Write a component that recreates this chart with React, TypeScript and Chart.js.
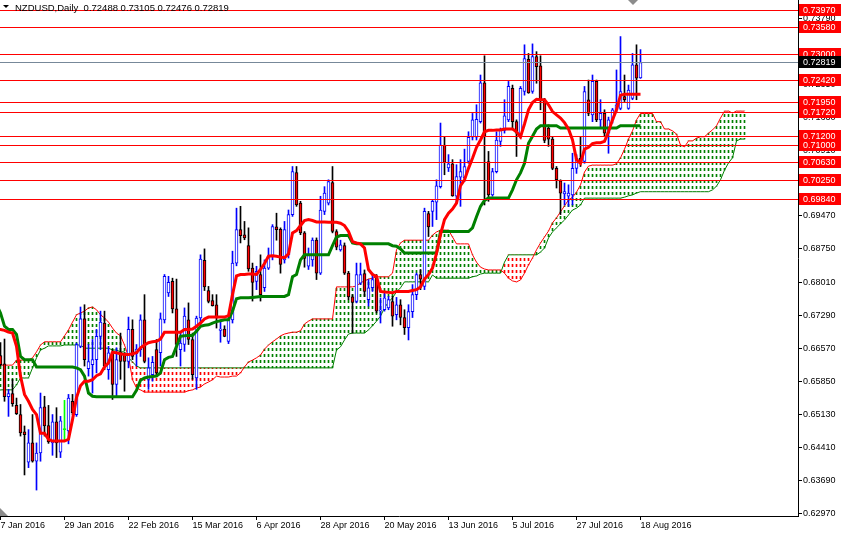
import React, { useEffect, useRef } from 'react';
import { Chart, registerables } from 'chart.js';

Chart.register(...registerables);

const FONT = "'Liberation Sans', Arial, sans-serif";
const AXIS_FONT_SIZE = 9;
const TITLE_FONT_SIZE = 9.5;
const SYMBOL = 'NZDUSD';
const PERIOD = 'Daily';

const dateTickBars = [0, 16, 32, 48, 64, 80, 96, 112, 128, 144, 160];
const dateTickLabels = ['7 Jan 2016', '29 Jan 2016', '22 Feb 2016', '15 Mar 2016', '6 Apr 2016', '28 Apr 2016', '20 May 2016', '13 Jun 2016', '5 Jul 2016', '27 Jul 2016', '18 Aug 2016'];
const priceTicks = [0.6297, 0.6369, 0.6441, 0.6513, 0.6585, 0.6657, 0.6729, 0.6801, 0.6875, 0.6947, 0.7019, 0.7091, 0.7163, 0.7235, 0.7307, 0.7379];
const PRICE_MIN = 0.62913;
const PRICE_MAX = 0.74189;
const BAR_MIN = -0.125;
const BAR_MAX = 199.375;
const levelPrices = [0.7397, 0.7358, 0.73, 0.7242, 0.7195, 0.7172, 0.712, 0.71, 0.7063, 0.7025, 0.6984];
const bidPrice = 0.72819;

const openP = [
  0.6642, 0.6624, 0.6552, 0.6559, 0.6533, 0.6513, 0.6475, 0.6409, 0.6451, 0.6411,
  0.6429, 0.6530, 0.6489, 0.6451, 0.6497, 0.6431, 0.6480, 0.6477, 0.6542, 0.6513,
  0.6662, 0.6722, 0.6613, 0.6622, 0.6633, 0.6684, 0.6713, 0.6611, 0.6649, 0.6579,
  0.6649, 0.6644, 0.6629, 0.6699, 0.6646, 0.6655, 0.6720, 0.6590, 0.6600, 0.6655,
  0.6648, 0.6720, 0.6779, 0.6804, 0.6744, 0.6655, 0.6666, 0.6720, 0.6677, 0.6593,
  0.6724, 0.6850, 0.6784, 0.6762, 0.6753, 0.6697, 0.6700, 0.6673, 0.6720, 0.6844,
  0.6917, 0.6906, 0.6882, 0.6833, 0.6804, 0.6819, 0.6790, 0.6833, 0.6859, 0.6923,
  0.6918, 0.6851, 0.6862, 0.6950, 0.7042, 0.6975, 0.6910, 0.6837, 0.6851, 0.6894,
  0.6822, 0.6957, 0.6975, 0.7020, 0.6913, 0.6873, 0.6882, 0.6822, 0.6770, 0.6760,
  0.6800, 0.6821, 0.6764, 0.6790, 0.6811, 0.6739, 0.6742, 0.6746, 0.6760, 0.6731,
  0.6753, 0.6725, 0.6703, 0.6738, 0.6775, 0.6819, 0.6793, 0.6952, 0.6957, 0.6977,
  0.7011, 0.7102, 0.7052, 0.7061, 0.6990, 0.7032, 0.7030, 0.7066, 0.7119, 0.7119,
  0.7153, 0.7238, 0.7066, 0.6993, 0.7044, 0.7110, 0.7134, 0.7157, 0.7226, 0.7153,
  0.7121, 0.7219, 0.7289, 0.7219, 0.7295, 0.7275, 0.7201, 0.7139, 0.7115, 0.7051,
  0.7024, 0.6995, 0.6990, 0.6993, 0.7051, 0.7073, 0.7066, 0.7201, 0.7168, 0.7241,
  0.7157, 0.7171, 0.7128, 0.7157, 0.7179, 0.7182, 0.7208, 0.7182, 0.7204, 0.7277,
  0.72488,
];
const highP = [
  0.6670, 0.6678, 0.6568, 0.6590, 0.6549, 0.6535, 0.6488, 0.6480, 0.6513, 0.6451,
  0.6560, 0.6553, 0.6533, 0.6513, 0.6528, 0.6509, 0.6544, 0.6557, 0.6557, 0.6669,
  0.6748, 0.6753, 0.6666, 0.6677, 0.6699, 0.6739, 0.6739, 0.6662, 0.6655, 0.6659,
  0.6691, 0.6648, 0.6726, 0.6720, 0.6666, 0.6731, 0.6775, 0.6637, 0.6640, 0.6677,
  0.6735, 0.6819, 0.6815, 0.6811, 0.6809, 0.6691, 0.6746, 0.6757, 0.6691, 0.6728,
  0.6862, 0.6875, 0.6793, 0.6775, 0.6775, 0.6720, 0.6707, 0.6731, 0.6870, 0.6964,
  0.6968, 0.6935, 0.6921, 0.6844, 0.6837, 0.6862, 0.6851, 0.6877, 0.6928, 0.6953,
  0.6921, 0.6935, 0.6960, 0.7055, 0.7055, 0.6979, 0.6913, 0.6877, 0.6899, 0.6899,
  0.6990, 0.7011, 0.7026, 0.7055, 0.6917, 0.6894, 0.6888, 0.6826, 0.6775, 0.6844,
  0.6844, 0.6829, 0.6808, 0.6822, 0.6819, 0.6768, 0.6782, 0.6771, 0.6771, 0.6769,
  0.6764, 0.6742, 0.6753, 0.6797, 0.6822, 0.6830, 0.6964, 0.6957, 0.6982, 0.7026,
  0.7150, 0.7120, 0.7081, 0.7070, 0.7059, 0.7070, 0.7093, 0.7131, 0.7171, 0.7190,
  0.7255, 0.7297, 0.7088, 0.7051, 0.7131, 0.7139, 0.7201, 0.7241, 0.7233, 0.7157,
  0.7230, 0.7321, 0.7302, 0.7323, 0.7306, 0.7297, 0.7204, 0.7146, 0.7121, 0.7055,
  0.7026, 0.7019, 0.7015, 0.7084, 0.7081, 0.7120, 0.7230, 0.7244, 0.7255, 0.7244,
  0.7201, 0.7179, 0.7163, 0.7182, 0.7266, 0.7339, 0.7255, 0.7233, 0.7302, 0.7321,
  0.73105,
];
const lowP = [
  0.6619, 0.6542, 0.6509, 0.6531, 0.6513, 0.6466, 0.6381, 0.6397, 0.6409, 0.6348,
  0.6411, 0.6466, 0.6450, 0.6424, 0.6419, 0.6419, 0.6458, 0.6449, 0.6513, 0.6509,
  0.6659, 0.6619, 0.6597, 0.6560, 0.6604, 0.6655, 0.6611, 0.6590, 0.6546, 0.6553,
  0.6590, 0.6564, 0.6615, 0.6633, 0.6619, 0.6640, 0.6626, 0.6568, 0.6586, 0.6597,
  0.6619, 0.6713, 0.6771, 0.6735, 0.6640, 0.6619, 0.6651, 0.6666, 0.6590, 0.6568,
  0.6706, 0.6784, 0.6757, 0.6750, 0.6702, 0.6671, 0.6683, 0.6668, 0.6713, 0.6838,
  0.6888, 0.6895, 0.6826, 0.6761, 0.6786, 0.6761, 0.6782, 0.6830, 0.6851, 0.6894,
  0.6822, 0.6844, 0.6855, 0.6946, 0.6968, 0.6906, 0.6835, 0.6830, 0.6837, 0.6808,
  0.6819, 0.6950, 0.6971, 0.6910, 0.6873, 0.6870, 0.6819, 0.6764, 0.6691, 0.6757,
  0.6797, 0.6771, 0.6750, 0.6782, 0.6735, 0.6713, 0.6739, 0.6742, 0.6706, 0.6720,
  0.6709, 0.6688, 0.6676, 0.6725, 0.6764, 0.6786, 0.6786, 0.6902, 0.6924, 0.6939,
  0.7008, 0.7037, 0.7044, 0.6990, 0.6975, 0.6968, 0.7022, 0.7062, 0.7113, 0.7113,
  0.7150, 0.6971, 0.6979, 0.6990, 0.7041, 0.7099, 0.7128, 0.7153, 0.7137, 0.7077,
  0.7117, 0.7211, 0.7215, 0.7215, 0.7237, 0.7179, 0.7107, 0.7099, 0.7048, 0.7008,
  0.6950, 0.6971, 0.6968, 0.6971, 0.7040, 0.7055, 0.7062, 0.7166, 0.7153, 0.7153,
  0.7142, 0.7121, 0.7084, 0.7150, 0.7175, 0.7179, 0.7197, 0.7180, 0.7201, 0.7201,
  0.72476,
];
const closeP = [
  0.6622, 0.6552, 0.6559, 0.6537, 0.6515, 0.6473, 0.6469, 0.6451, 0.6411, 0.6429,
  0.6528, 0.6488, 0.6453, 0.6497, 0.6451, 0.6499, 0.6480, 0.6549, 0.6517, 0.6666,
  0.6722, 0.6633, 0.6629, 0.6633, 0.6684, 0.6715, 0.6620, 0.6648, 0.6579, 0.6633,
  0.6629, 0.6629, 0.6699, 0.6640, 0.6656, 0.6720, 0.6629, 0.6615, 0.6627, 0.6604,
  0.6722, 0.6815, 0.6802, 0.6744, 0.6666, 0.6669, 0.6728, 0.6677, 0.6600, 0.6724,
  0.6853, 0.6792, 0.6760, 0.6751, 0.6724, 0.6700, 0.6684, 0.6720, 0.6844, 0.6917,
  0.6904, 0.6899, 0.6831, 0.6802, 0.6826, 0.6775, 0.6833, 0.6859, 0.6924, 0.6917,
  0.6841, 0.6917, 0.6950, 0.7044, 0.6971, 0.6910, 0.6854, 0.6862, 0.6894, 0.6822,
  0.6960, 0.6997, 0.7022, 0.6913, 0.6879, 0.6884, 0.6822, 0.6770, 0.6758, 0.6819,
  0.6819, 0.6782, 0.6790, 0.6808, 0.6739, 0.6742, 0.6768, 0.6764, 0.6728, 0.6753,
  0.6725, 0.6703, 0.6738, 0.6775, 0.6819, 0.6809, 0.6957, 0.6923, 0.6979, 0.7013,
  0.7102, 0.7064, 0.7061, 0.6991, 0.7033, 0.7044, 0.7055, 0.7119, 0.7157, 0.7158,
  0.7238, 0.7121, 0.6993, 0.7044, 0.7113, 0.7134, 0.7166, 0.7230, 0.7153, 0.7128,
  0.7226, 0.7291, 0.7216, 0.7295, 0.7273, 0.7201, 0.7112, 0.7115, 0.7051, 0.7026,
  0.6997, 0.7000, 0.6997, 0.7051, 0.7073, 0.7062, 0.7219, 0.7171, 0.7241, 0.7157,
  0.7171, 0.7128, 0.7157, 0.7179, 0.7190, 0.7219, 0.7201, 0.7222, 0.7277, 0.7248,
  0.72819,
];

const LINE_FIRST_BAR = -1;
const tenkan = [
  0.6699, 0.6699, 0.6697, 0.6693, 0.6691, 0.6662, 0.6597, 0.6557, 0.6542, 0.6524,
  0.6513, 0.6472, 0.6472, 0.6459, 0.6455, 0.6455, 0.6455, 0.6455, 0.6459, 0.6502,
  0.6550, 0.6576, 0.6586, 0.6586, 0.6589, 0.6598, 0.6602, 0.6617, 0.6626, 0.6649,
  0.6648, 0.6646, 0.6644, 0.6644, 0.6646, 0.6648, 0.6659, 0.6665, 0.6670, 0.6672,
  0.6673, 0.6678, 0.6693, 0.6693, 0.6693, 0.6693, 0.6693, 0.6699, 0.6699, 0.6700,
  0.6706, 0.6713, 0.6722, 0.6726, 0.6726, 0.6726, 0.6726, 0.6726, 0.6729, 0.6775,
  0.6816, 0.6819, 0.6819, 0.6820, 0.6820, 0.6819, 0.6830, 0.6843, 0.6859, 0.6860,
  0.6859, 0.6857, 0.6856, 0.6864, 0.6910, 0.6915, 0.6926, 0.6937, 0.6939, 0.6937,
  0.6934, 0.6934, 0.6934, 0.6933, 0.6933, 0.6933, 0.6931, 0.6926, 0.6913, 0.6891,
  0.6888, 0.6886, 0.6877, 0.6830, 0.6819, 0.6815, 0.6782, 0.6781, 0.6780, 0.6779,
  0.6782, 0.6782, 0.6782, 0.6782, 0.6784, 0.6786, 0.6792, 0.6809, 0.6819, 0.6833,
  0.6865, 0.6906, 0.6939, 0.6953, 0.6962, 0.6975, 0.7013, 0.7026, 0.7051, 0.7073,
  0.7097, 0.7113, 0.7131, 0.7134, 0.7134, 0.7135, 0.7135, 0.7137, 0.7137, 0.7137,
  0.7131, 0.7120, 0.7148, 0.7179, 0.7195, 0.7202, 0.7201, 0.7201, 0.7190, 0.7175,
  0.7168, 0.7161, 0.7151, 0.7137, 0.7113, 0.7070, 0.7062, 0.7093, 0.7097, 0.7105,
  0.7107, 0.7107, 0.7110, 0.7131, 0.7157, 0.7179, 0.7211, 0.7213, 0.7213, 0.7213,
  0.7213, 0.7213,
];
const kijun = [
  0.6753, 0.6735, 0.6706, 0.6699, 0.6699, 0.6688, 0.6640, 0.6633, 0.6633, 0.6633,
  0.6617, 0.6617, 0.6617, 0.6617, 0.6617, 0.6617, 0.6617, 0.6617, 0.6617, 0.6617,
  0.6615, 0.6611, 0.6597, 0.6560, 0.6553, 0.6552, 0.6552, 0.6552, 0.6552, 0.6552,
  0.6552, 0.6552, 0.6552, 0.6552, 0.6552, 0.6566, 0.6588, 0.6593, 0.6595, 0.6596,
  0.6597, 0.6604, 0.6633, 0.6638, 0.6640, 0.6662, 0.6684, 0.6685, 0.6686, 0.6686,
  0.6695, 0.6706, 0.6708, 0.6709, 0.6713, 0.6716, 0.6718, 0.6720, 0.6720, 0.6739,
  0.6766, 0.6768, 0.6768, 0.6768, 0.6769, 0.6770, 0.6771, 0.6771, 0.6771, 0.6771,
  0.6771, 0.6771, 0.6771, 0.6775, 0.6814, 0.6819, 0.6851, 0.6862, 0.6862, 0.6862,
  0.6862, 0.6862, 0.6862, 0.6862, 0.6882, 0.6901, 0.6904, 0.6904, 0.6904, 0.6888,
  0.6886, 0.6886, 0.6886, 0.6886, 0.6886, 0.6886, 0.6886, 0.6886, 0.6886, 0.6882,
  0.6881, 0.6875, 0.6866, 0.6866, 0.6866, 0.6866, 0.6866, 0.6866, 0.6866, 0.6866,
  0.6866, 0.6913, 0.6913, 0.6913, 0.6913, 0.6913, 0.6913, 0.6913, 0.6913, 0.6921,
  0.6945, 0.6968, 0.6981, 0.6986, 0.6986, 0.6986, 0.6986, 0.6986, 0.6986, 0.7004,
  0.7026, 0.7041, 0.7062, 0.7106, 0.7121, 0.7137, 0.7144, 0.7144, 0.7144, 0.7144,
  0.7144, 0.7139, 0.7139, 0.7139, 0.7139, 0.7139, 0.7139, 0.7139, 0.7139, 0.7139,
  0.7139, 0.7139, 0.7139, 0.7139, 0.7139, 0.7139, 0.7144, 0.7144, 0.7144, 0.7144,
  0.7144, 0.7144,
];

const CLOUD_FIRST_BAR = -1;
const spanA = [
  0.6621, 0.6621, 0.6621, 0.6621, 0.6621, 0.6632, 0.6632, 0.6632, 0.6632, 0.6637,
  0.6650, 0.6665, 0.6672, 0.6672, 0.6672, 0.6672, 0.6672, 0.6685, 0.6698, 0.6715,
  0.6731, 0.6735, 0.6739, 0.6746, 0.6748, 0.6742, 0.6731, 0.6724, 0.6715, 0.6702,
  0.6691, 0.6685, 0.6665, 0.6639, 0.6589, 0.6571, 0.6567, 0.6562, 0.6562, 0.6562,
  0.6562, 0.6562, 0.6562, 0.6562, 0.6562, 0.6562, 0.6562, 0.6562, 0.6565, 0.6567,
  0.6571, 0.6573, 0.6580, 0.6584, 0.6589, 0.6597, 0.6595, 0.6595, 0.6595, 0.6597,
  0.6597, 0.6604, 0.6617, 0.6628, 0.6632, 0.6637, 0.6643, 0.6656, 0.6665, 0.6672,
  0.6678, 0.6685, 0.6689, 0.6691, 0.6693, 0.6693, 0.6696, 0.6711, 0.6717, 0.6722,
  0.6722, 0.6722, 0.6722, 0.6722, 0.6722, 0.6792, 0.6792, 0.6792, 0.6792, 0.6792,
  0.6794, 0.6801, 0.6805, 0.6809, 0.6811, 0.6814, 0.6814, 0.6814, 0.6814, 0.6822,
  0.6873, 0.6888, 0.6894, 0.6894, 0.6894, 0.6894, 0.6894, 0.6894, 0.6894, 0.6905,
  0.6912, 0.6916, 0.6916, 0.6916, 0.6901, 0.6886, 0.6886, 0.6886, 0.6886, 0.6862,
  0.6846, 0.6835, 0.6831, 0.6829, 0.6829, 0.6829, 0.6829, 0.6822, 0.6811, 0.6805,
  0.6803, 0.6807, 0.6822, 0.6840, 0.6855, 0.6873, 0.6888, 0.6901, 0.6914, 0.6932,
  0.6943, 0.6956, 0.6969, 0.6982, 0.6988, 0.6999, 0.7015, 0.7043, 0.7056, 0.7058,
  0.7058, 0.7058, 0.7058, 0.7058, 0.7058, 0.7061, 0.7074, 0.7093, 0.7115, 0.7133,
  0.7157, 0.7171, 0.7171, 0.7171, 0.7171, 0.7153, 0.7153, 0.7137, 0.7137, 0.7133,
  0.7126, 0.7102, 0.7098, 0.7111, 0.7111, 0.7117, 0.7120, 0.7120, 0.7128, 0.7135,
  0.7144, 0.7161, 0.7176, 0.7176, 0.7172, 0.7176, 0.7176, 0.7176,
];
const spanB = [
  0.6567, 0.6567, 0.6567, 0.6567, 0.6567, 0.6578, 0.6593, 0.6593, 0.6593, 0.6615,
  0.6637, 0.6654, 0.6658, 0.6663, 0.6663, 0.6663, 0.6663, 0.6665, 0.6665, 0.6665,
  0.6665, 0.6665, 0.6658, 0.6658, 0.6658, 0.6658, 0.6658, 0.6658, 0.6658, 0.6654,
  0.6654, 0.6650, 0.6650, 0.6637, 0.6628, 0.6619, 0.6615, 0.6615, 0.6615, 0.6615,
  0.6615, 0.6615, 0.6615, 0.6615, 0.6615, 0.6615, 0.6615, 0.6615, 0.6615, 0.6615,
  0.6615, 0.6615, 0.6615, 0.6615, 0.6615, 0.6615, 0.6615, 0.6615, 0.6615, 0.6615,
  0.6615, 0.6615, 0.6615, 0.6615, 0.6615, 0.6615, 0.6615, 0.6615, 0.6615, 0.6615,
  0.6615, 0.6615, 0.6615, 0.6615, 0.6615, 0.6615, 0.6615, 0.6615, 0.6615, 0.6615,
  0.6615, 0.6615, 0.6615, 0.6615, 0.6615, 0.6654, 0.6661, 0.6676, 0.6689, 0.6691,
  0.6691, 0.6691, 0.6691, 0.6698, 0.6707, 0.6717, 0.6728, 0.6746, 0.6759, 0.6768,
  0.6781, 0.6790, 0.6803, 0.6803, 0.6803, 0.6803, 0.6803, 0.6803, 0.6803, 0.6818,
  0.6811, 0.6811, 0.6811, 0.6811, 0.6811, 0.6811, 0.6811, 0.6811, 0.6811, 0.6814,
  0.6816, 0.6820, 0.6822, 0.6822, 0.6822, 0.6822, 0.6822, 0.6846, 0.6862, 0.6862,
  0.6862, 0.6862, 0.6862, 0.6862, 0.6862, 0.6862, 0.6868, 0.6877, 0.6899, 0.6912,
  0.6921, 0.6930, 0.6938, 0.6949, 0.6960, 0.6964, 0.6971, 0.6986, 0.6986, 0.6986,
  0.6986, 0.6986, 0.6986, 0.6986, 0.6986, 0.6986, 0.6986, 0.6988, 0.6991, 0.6993,
  0.6997, 0.7000, 0.7000, 0.7000, 0.7000, 0.7000, 0.7000, 0.7000, 0.7000, 0.7000,
  0.7000, 0.7000, 0.7000, 0.7000, 0.7000, 0.7000, 0.7000, 0.7000, 0.7000, 0.7004,
  0.7012, 0.7026, 0.7047, 0.7063, 0.7074, 0.7111, 0.7115, 0.7115,
];

const overlayPlugin = {
  id: 'mt4Overlay',
  afterDatasetsDraw(chart: any) {
    const { ctx, chartArea } = chart;
    const ys = chart.scales.y;
    ctx.save();
    ctx.beginPath();
    ctx.rect(chartArea.left, chartArea.top, chartArea.right - chartArea.left, chartArea.bottom - chartArea.top);
    ctx.clip();
    ctx.lineWidth = 1;
    const bidY = Math.floor(ys.getPixelForValue(bidPrice)) + 0.5;
    ctx.strokeStyle = '#778899';
    ctx.beginPath();
    ctx.moveTo(chartArea.left, bidY);
    ctx.lineTo(chartArea.right, bidY);
    ctx.stroke();
    ctx.strokeStyle = '#ff0000';
    levelPrices.forEach((p) => {
      const py = Math.floor(ys.getPixelForValue(p)) + 0.5;
      ctx.beginPath();
      ctx.moveTo(chartArea.left, py);
      ctx.lineTo(chartArea.right, py);
      ctx.stroke();
    });
    ctx.restore();
  },
  afterDraw(chart: any) {
    const { ctx, chartArea } = chart;
    const ys = chart.scales.y;
    ctx.save();
    ctx.font = `${AXIS_FONT_SIZE}px ${FONT}`;
    ctx.textBaseline = 'middle';
    ctx.textAlign = 'left';
    const drawBox = (p: number, bg: string) => {
      const py = Math.floor(ys.getPixelForValue(p));
      ctx.fillStyle = bg;
      ctx.fillRect(chartArea.right + 1, py - 6, 42, 12);
      ctx.fillStyle = '#ffffff';
      ctx.fillText(p.toFixed(5), chartArea.right + 5, py + 0.5);
    };
    levelPrices.forEach((p) => drawBox(p, '#ff0000'));
    drawBox(bidPrice, '#000000');
    const last = openP.length - 1;
    const title = `${SYMBOL},${PERIOD}  ${openP[last].toFixed(5)} ${highP[last].toFixed(5)} ${lowP[last].toFixed(5)} ${closeP[last].toFixed(5)}`;
    ctx.font = `${TITLE_FONT_SIZE}px ${FONT}`;
    ctx.fillStyle = '#000000';
    ctx.beginPath();
    ctx.moveTo(3, 5);
    ctx.lineTo(9, 5);
    ctx.lineTo(6, 8);
    ctx.closePath();
    ctx.fill();
    ctx.fillText(title, 15, 8);
    ctx.fillStyle = '#8c8c8c';
    ctx.beginPath();
    ctx.moveTo(628, 0);
    ctx.lineTo(638, 0);
    ctx.lineTo(633, 5);
    ctx.closePath();
    ctx.fill();
    ctx.beginPath();
    ctx.moveTo(chartArea.left, chartArea.bottom - 8);
    ctx.lineTo(chartArea.left + 8, chartArea.bottom);
    ctx.lineTo(chartArea.left, chartArea.bottom);
    ctx.closePath();
    ctx.fill();
    ctx.restore();
  },
};

export default function App() {
  const canvasRef = useRef<HTMLCanvasElement | null>(null);

  useEffect(() => {
    const canvas = canvasRef.current;
    if (!canvas) return;
    const ctx = canvas.getContext('2d');
    if (!ctx) return;
    Chart.defaults.font.family = FONT;

    const makeHatch = (color: string) => {
      const c = document.createElement('canvas');
      c.width = 1;
      c.height = 6;
      const g = c.getContext('2d')!;
      g.fillStyle = color;
      g.fillRect(0, 0, 1, 3);
      return ctx.createPattern(c, 'repeat')!;
    };
    const greenHatch = makeHatch('#008000');
    const redHatch = makeHatch('#ff0000');

    const idx = openP.map((_, i) => i);
    const isDoji = (i: number) => closeP[i] === openP[i];
    const isBull = (i: number) => closeP[i] > openP[i];
    const wickData = idx.map((i) => ({ x: i, y: [lowP[i], highP[i]] }));
    const bodyData = idx.map((i) => ({ x: i, y: [openP[i], closeP[i]] }));
    const wickColors = idx.map((i) => (isDoji(i) ? '#00ff00' : isBull(i) ? '#0000ff' : '#000000'));
    const bodyFill = idx.map((i) => (isDoji(i) ? '#00ff00' : isBull(i) ? '#ffffff' : '#ff0000'));
    const bodyBorder = idx.map((i) => (isDoji(i) ? '#00ff00' : isBull(i) ? '#0000ff' : '#000000'));
    const toLine = (arr: number[], first: number) => arr.map((v, k) => ({ x: first + k, y: v }));
    const cloudData = spanA.map((a, k) => ({ x: CLOUD_FIRST_BAR + k, y: [a, spanB[k]] }));
    const cloudColors = spanA.map((a, k) => (a >= spanB[k] ? greenHatch : redHatch));

    const tickFont = { family: FONT, size: AXIS_FONT_SIZE };

    const chart = new Chart(ctx, {
      type: 'bar',
      data: {
        datasets: [
          { type: 'line', label: 'Tenkan-sen', data: toLine(tenkan, LINE_FIRST_BAR), borderColor: '#ff0000', borderWidth: 3, pointRadius: 0, tension: 0, order: 1 },
          { type: 'line', label: 'Kijun-sen', data: toLine(kijun, LINE_FIRST_BAR), borderColor: '#008000', borderWidth: 3, pointRadius: 0, tension: 0, order: 2 },
          { type: 'bar', label: 'Body', data: bodyData, backgroundColor: bodyFill, borderColor: bodyBorder, borderWidth: 1, borderSkipped: false, barThickness: 3, minBarLength: 1, grouped: false, order: 3 },
          { type: 'bar', label: 'Wick', data: wickData, backgroundColor: wickColors, borderWidth: 0, barThickness: 1, grouped: false, order: 4 },
          { type: 'line', label: 'Senkou Span A', data: toLine(spanA, CLOUD_FIRST_BAR), borderColor: '#ff0000', borderWidth: 1, pointRadius: 0, tension: 0, order: 5 },
          { type: 'line', label: 'Senkou Span B', data: toLine(spanB, CLOUD_FIRST_BAR), borderColor: '#008000', borderWidth: 1, pointRadius: 0, tension: 0, order: 6 },
          { type: 'bar', label: 'Kumo', data: cloudData, backgroundColor: cloudColors, borderWidth: 0, barThickness: 1, grouped: false, order: 7 },
        ] as any,
      },
      options: {
        responsive: false,
        animation: false,
        devicePixelRatio: 1,
        events: [],
        layout: { padding: 0 },
        plugins: { legend: { display: false }, tooltip: { enabled: false }, title: { display: false } },
        scales: {
          x: {
            type: 'linear',
            position: 'bottom',
            min: BAR_MIN,
            max: BAR_MAX,
            offset: false,
            grid: { display: true, drawOnChartArea: false, drawTicks: true, tickLength: 4, color: '#000000', offset: false },
            border: { display: true, color: '#000000', width: 1 },
            ticks: {
              autoSkip: false, maxRotation: 0, minRotation: 0, align: 'start', padding: 0, color: '#000000', font: tickFont,
              callback: (_v: any, i: number) => dateTickLabels[i],
            },
            afterBuildTicks: (s: any) => { s.ticks = dateTickBars.map((v) => ({ value: v })); },
            afterFit: (s: any) => { s.height = 17; s.paddingLeft = 0; s.paddingRight = 0; },
          },
          y: {
            type: 'linear',
            position: 'right',
            min: PRICE_MIN,
            max: PRICE_MAX,
            beginAtZero: false,
            grid: { display: true, drawOnChartArea: false, drawTicks: true, tickLength: 4, color: '#000000' },
            border: { display: true, color: '#000000', width: 1 },
            ticks: {
              autoSkip: false, padding: 1, color: '#000000', font: tickFont,
              callback: (v: any) => Number(v).toFixed(5),
            },
            afterBuildTicks: (s: any) => { s.ticks = priceTicks.map((v) => ({ value: v })); },
            afterFit: (s: any) => { s.width = 43; s.paddingTop = 0; s.paddingBottom = 0; },
          },
        },
      } as any,
      plugins: [overlayPlugin],
    });
    return () => chart.destroy();
  }, []);

  return (
    <div style={{ position: 'absolute', left: 0, top: 0, width: 841, height: 533, background: '#ffffff' }}>
      <canvas ref={canvasRef} width={841} height={533} style={{ display: 'block', width: 841, height: 533 }} />
    </div>
  );
}
